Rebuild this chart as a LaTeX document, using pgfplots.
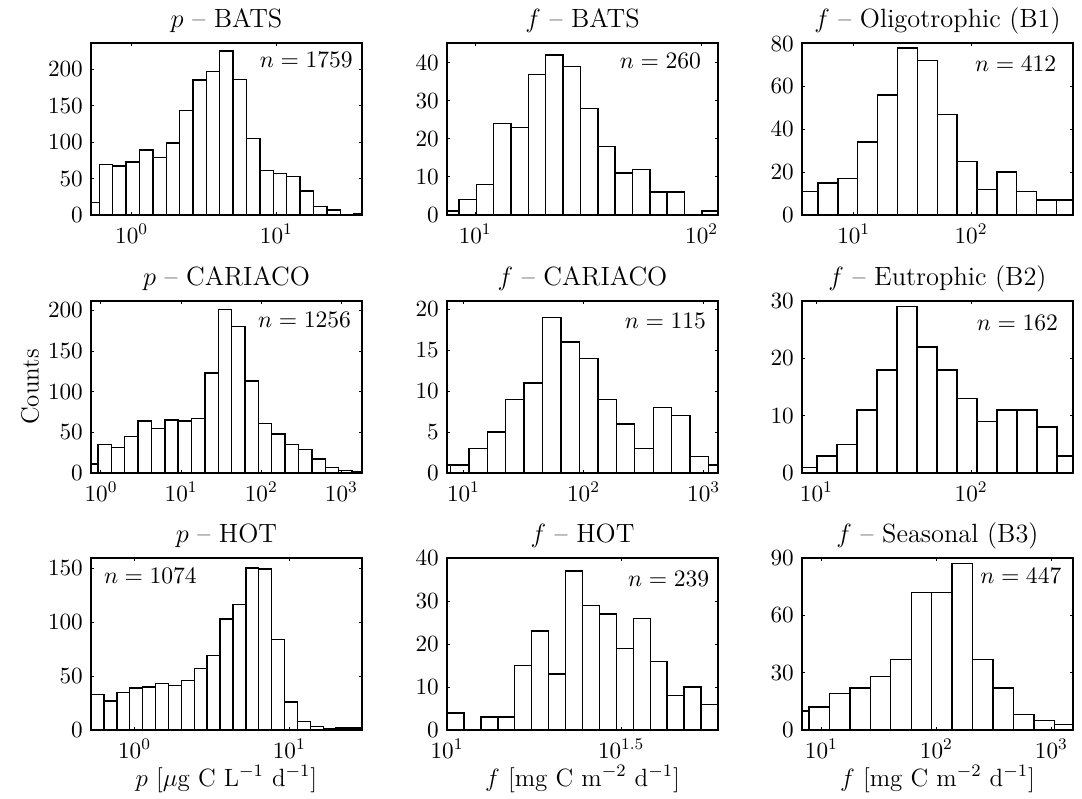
\RequirePackage{fix-cm}
\documentclass[border=0pt]{standalone}
\usepackage{pgfplots}
\usepackage{pgfplotstable}
\pgfplotsset{compat=1.18}

% Histograms on a log10 scale: each row is (bin left edge in log10 units, count);
% the last row closes the final bin.
\pgfplotstableread{
e c
-0.3160 17
-0.2235 69
-0.1310 67
-0.0385 73
0.0540 89
0.1465 79
0.2390 99
0.3315 143
0.4240 185
0.5165 197
0.6090 225
0.7015 186
0.7940 105
0.8865 61
0.9790 57
1.0715 53
1.1640 33
1.2565 12
1.3490 7
1.4415 1
1.5340 2
1.6265 0
}\pBATS
\pgfplotstableread{
e c
0.8523 1
0.9289 4
1.0055 8
1.0821 24
1.1587 23
1.2353 37
1.3119 42
1.3885 39
1.4651 28
1.5417 18
1.6183 11
1.6949 12
1.7715 6
1.8481 6
1.9247 0
2.0013 1
2.0779 0
}\fBATS
\pgfplotstableread{
e c
0.5267 11
0.6960 15
0.8653 17
1.0346 34
1.2039 56
1.3732 78
1.5425 72
1.7118 47
1.8811 25
2.0504 12
2.2197 20
2.3890 11
2.5583 7
2.7276 7
2.8969 0
}\fOligo
\pgfplotstableread{
e c
-0.2041 11
-0.0373 35
0.1295 31
0.2963 45
0.4631 64
0.6299 55
0.7967 65
0.9635 64
1.1303 67
1.2971 123
1.4639 201
1.6307 180
1.7975 113
1.9643 61
2.1311 48
2.2979 35
2.4647 29
2.6315 17
2.7983 7
2.9651 3
3.1319 2
3.2987 0
}\pCARIACO
\pgfplotstableread{
e c
0.7374 1
0.8910 1
1.0446 3
1.1982 5
1.3518 9
1.5054 11
1.6590 19
1.8126 16
1.9662 14
2.1198 9
2.2734 6
2.4270 3
2.5806 8
2.7342 7
2.8878 2
3.0414 1
3.1950 0
}\fCARIACO
\pgfplotstableread{
e c
0.8750 1
1.0043 3
1.1336 5
1.2629 11
1.3922 18
1.5215 29
1.6508 22
1.7801 18
1.9094 13
2.0387 9
2.1680 11
2.2973 11
2.4266 8
2.5559 3
2.6852 0
}\fEutro
\pgfplotstableread{
e c
-0.2808 33
-0.1974 27
-0.1141 35
-0.0307 39
0.0526 40
0.1360 43
0.2193 41
0.3027 46
0.3860 57
0.4694 69
0.5527 103
0.6361 116
0.7194 150
0.8028 149
0.8861 84
0.9695 26
1.0528 8
1.1362 3
1.2195 1
1.3029 2
1.3862 2
1.4696 0
}\pHOT
\pgfplotstableread{
e c
1.0000 4
1.0486 0
1.0973 3
1.1459 3
1.1945 15
1.2432 23
1.2918 13
1.3404 37
1.3890 29
1.4377 27
1.4863 19
1.5349 26
1.5836 16
1.6322 8
1.6808 10
1.7295 6
1.7781 0
}\fHOT
\pgfplotstableread{
e c
0.7151 10
0.8928 12
1.0705 19
1.2482 22
1.4259 28
1.6036 37
1.7813 72
1.9590 72
2.1367 87
2.3144 37
2.4921 22
2.6698 8
2.8475 5
3.0252 3
3.2029 0
}\fSeas

\pgfplotsset{
  hist/.style={
    scale only axis, width=135.5pt, height=86pt,
    anchor=north west,
    axis on top,
    axis line style={line width=0.75pt},
    tick style={black, line width=0.5pt},
    major tick length=1.6pt,
    ymin=0,
    tick label style={font=\fontsize{11.6}{14}\selectfont, inner sep=0pt},
    xticklabel style={yshift=-4.4pt},
    yticklabel style={xshift=-3.9pt},
    title style={font=\fontsize{13.2}{16}\selectfont, anchor=base, yshift=2pt},
    label style={font=\fontsize{12.5}{15}\selectfont},
    xlabel style={at={(axis description cs:0.5,-0.3256)}, anchor=base},
    ylabel style={at={(axis description cs:-0.225,0.5)}, anchor=center},
  },
  bars/.style={ybar interval, fill=white, draw=black, line width=0.7pt},
}
% sample-size label: right offset, depth of baseline below the top edge, text
\newcommand{\nlabel}[3]{\node[anchor=base east, inner sep=0pt,
  font=\fontsize{11.8}{14}\selectfont]
  at ([xshift=-#1, yshift=-#2]rel axis cs:1,1) {$n = #3$};}

\begin{document}
\begin{tikzpicture}
\path (0,0) rectangle (541pt,-399pt);

% ---- row 1 ----
\begin{axis}[hist, at={(45.5pt,-21.5pt)},
  xmin=-0.281, xmax=1.592, ymax=236,
  xtick={0,1}, xticklabels={$10^{0}$,$10^{1}$},
  ytick={0,50,100,150,200},
  title={$p$ -- BATS}]
\addplot[bars] table {\pBATS};
\nlabel{4.4pt}{12pt}{1759}
\end{axis}

\begin{axis}[hist, at={(223.5pt,-21.5pt)},
  xmin=0.8756, xmax=2.0726, ymax=45.2,
  xtick={1,2}, xticklabels={$10^{1}$,$10^{2}$},
  ytick={0,10,20,30,40},
  title={$f$ -- BATS}]
\addplot[bars] table {\fBATS};
\nlabel{8.3pt}{12.7pt}{260}
\end{axis}

\begin{axis}[hist, at={(401pt,-21.5pt)},
  xmin=0.5597, xmax=2.869, ymax=80.3,
  xtick={1,2}, xticklabels={$10^{1}$,$10^{2}$},
  ytick={0,20,40,60,80},
  title={$f$ -- Oligotrophic (B1)}]
\addplot[bars] table {\fOligo};
\nlabel{8.2pt}{14pt}{412}
\end{axis}

% ---- row 2 ----
\begin{axis}[hist, at={(45.5pt,-150.5pt)},
  xmin=-0.1245, xmax=3.257, ymax=211.5,
  xtick={0,1,2,3}, xticklabels={$10^{0}$,$10^{1}$,$10^{2}$,$10^{3}$},
  ytick={0,50,100,150,200},
  ylabel={Counts},
  title={$p$ -- CARIACO}]
\addplot[bars] table {\pCARIACO};
\nlabel{5.3pt}{13.2pt}{1256}
\end{axis}

\begin{axis}[hist, at={(223.5pt,-150.5pt)},
  xmin=0.863, xmax=3.12, ymax=21,
  xtick={1,2,3}, xticklabels={$10^{1}$,$10^{2}$,$10^{3}$},
  ytick={0,5,10,15,20},
  title={$f$ -- CARIACO}]
\addplot[bars] table {\fCARIACO};
\nlabel{5.8pt}{13.7pt}{115}
\end{axis}

\begin{axis}[hist, at={(401pt,-150.5pt)},
  xmin=0.907, xmax=2.659, ymax=30,
  xtick={1,2}, xticklabels={$10^{1}$,$10^{2}$},
  ytick={0,10,20,30},
  title={$f$ -- Eutrophic (B2)}]
\addplot[bars] table {\fEutro};
\nlabel{7.3pt}{14.5pt}{162}
\end{axis}

% ---- row 3 ----
\begin{axis}[hist, at={(45.5pt,-279pt)},
  xmin=-0.2808, xmax=1.4696, ymax=159.3,
  xtick={0,1}, xticklabels={$10^{0}$,$10^{1}$},
  ytick={0,50,100,150},
  xlabel={$p$ [$\mu$g C L$^{-1}$ d$^{-1}$]},
  title={$p$ -- HOT}]
\addplot[bars] table {\pHOT};
\node[anchor=base west, inner sep=0pt, font=\fontsize{11.8}{14}\selectfont]
  at ([xshift=6.3pt, yshift=-12.7pt]rel axis cs:0,1) {$n = 1074$};
\end{axis}

\begin{axis}[hist, at={(223.5pt,-279pt)},
  xmin=1.0, xmax=1.7781, ymax=40,
  xtick={1,1.5}, xticklabels={$10^{1}$,$10^{1.5}$},
  ytick={0,10,20,30,40},
  xlabel={$f$ [mg C m$^{-2}$ d$^{-1}$]},
  title={$f$ -- HOT}]
\addplot[bars] table {\fHOT};
\nlabel{4.2pt}{14pt}{239}
\end{axis}

\begin{axis}[hist, at={(401pt,-279pt)},
  xmin=0.832, xmax=3.188, ymax=90,
  xtick={1,2,3}, xticklabels={$10^{1}$,$10^{2}$,$10^{3}$},
  ytick={0,30,60,90},
  xlabel={$f$ [mg C m$^{-2}$ d$^{-1}$]},
  title={$f$ -- Seasonal (B3)}]
\addplot[bars] table {\fSeas};
\nlabel{5.6pt}{12.5pt}{447}
\end{axis}
\end{tikzpicture}
\end{document}
